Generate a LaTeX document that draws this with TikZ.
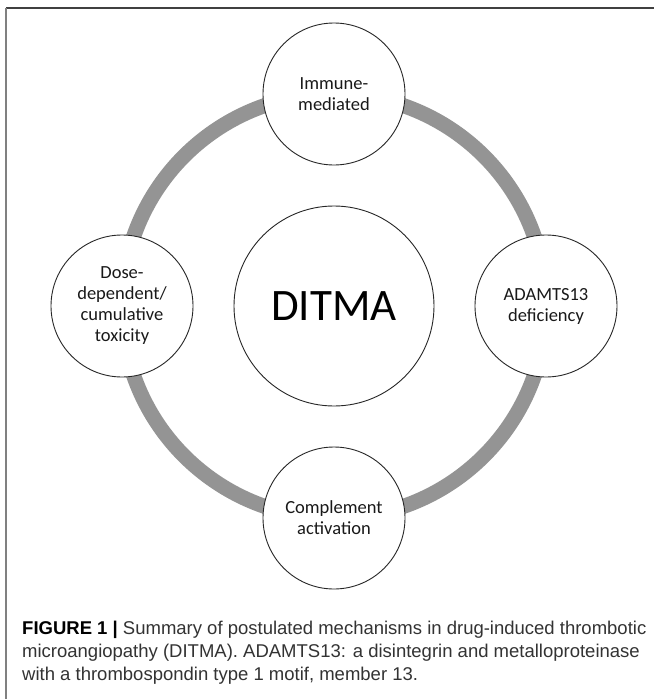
\documentclass[tikz,border=0pt]{standalone}
\usepackage{fontspec}
\setmainfont{Liberation Sans}
\newfontfamily\circfont{Carlito}
\begin{document}
\begin{tikzpicture}[x=1pt,y=-1pt,
  mech/.style={circle, draw=black!85, line width=0.9pt, fill=white,
    minimum size=142pt, inner sep=0pt, align=center, text=black!90,
    font=\circfont\fontsize{18.5}{21}\selectfont},
  hub/.style={circle, draw=black!85, line width=0.9pt, fill=white,
    minimum size=200pt, inner sep=0pt,
    font=\circfont\fontsize{45}{50}\selectfont},
  ring/.style={draw=black!42, line width=15pt},
  capline/.style={anchor=base west, inner sep=0pt,
    font=\fontsize{18.5}{22}\selectfont, text=black!80}]
\useasboundingbox (0,0) rectangle (654,699);
\fill[white] (0,0) rectangle (654,699);
% frame
\draw[black!75, line width=1.6pt] (6,8) -- (654,8);
\draw[black!50, line width=1.4pt] (6,8) -- (6,699);

% central hub and the ring joining the mechanisms
\coordinate (mid) at (334,306);
\draw[ring] (mid) circle (212pt);
\node[hub] (ditma) at (mid) {DITMA};

% mechanisms
\node[mech] (immune) at (334,94) {Immune-\\mediated};
\node[mech] (dose) at (122,306) {Dose-\\dependent/\\cumulative\\toxicity};
\node[mech] (adamts) at (546,306) {ADAMTS13\\deficiency};
\node[mech] (compl) at (334,518) {Complement\\activation};

% caption
\node[capline] (cap1) at (22,634) {{\color{black}\textbf{FIGURE 1 |}} Summary of postulated mechanisms in drug-induced thrombotic};
\node[capline] (cap2) at (22,657) {microangiopathy (DITMA). ADAMTS13: a disintegrin and metalloproteinase};
\node[capline] (cap3) at (22,680) {with a thrombospondin type 1 motif, member 13.};
\end{tikzpicture}
\end{document}
